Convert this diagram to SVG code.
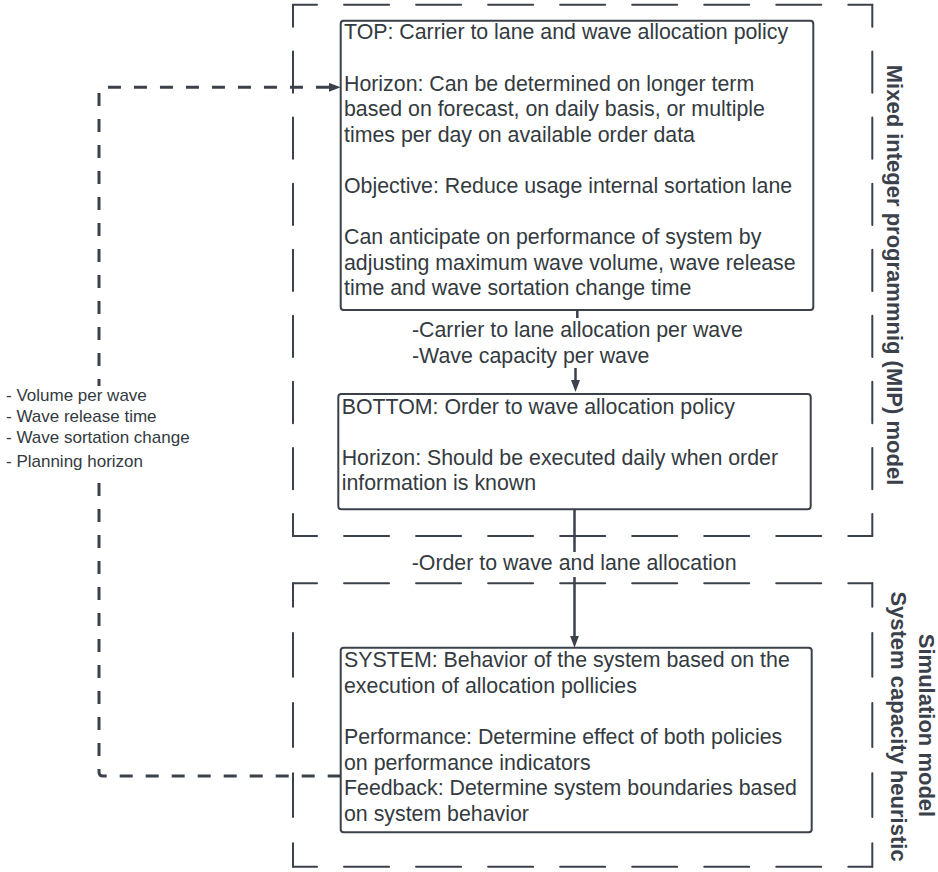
<svg xmlns="http://www.w3.org/2000/svg" width="938" height="872" viewBox="0 0 938 872">
<defs>
<style>
.frame{fill:none;stroke:#3a414a;stroke-width:2;stroke-dasharray:45 27;stroke-dashoffset:21;stroke-linecap:round}
.box{fill:#ffffff;stroke:#3a414a;stroke-width:2}
.t{font-family:"Liberation Sans",Arial,sans-serif;font-size:21.33px;fill:#333a40}
.lg{font-family:"Liberation Sans",Arial,sans-serif;font-size:17px;fill:#333a40}
.ttl{font-family:"Liberation Sans",Arial,sans-serif;font-size:22px;font-weight:bold;fill:#3a414a;text-anchor:middle}
.conn{fill:none;stroke:#3a414a;stroke-width:2.5}
.dconn{fill:none;stroke:#3a414a;stroke-width:3;stroke-dasharray:13 13}
.bg{fill:#ffffff}
</style>
<marker id="arr" markerUnits="userSpaceOnUse" markerWidth="14" markerHeight="10" refX="6" refY="4.5" orient="auto">
<path d="M0,0 L12,4.5 L0,9 Z" fill="#3a414a"/>
</marker>
</defs>
<rect width="938" height="872" fill="#ffffff"/>

<g id="frame-mip">
<path class="frame" pathLength="579" d="M293,4.7 H872.3"/>
<path class="frame" pathLength="579" d="M872.3,4.7 V536"/>
<path class="frame" pathLength="579" d="M872.3,536 H293"/>
<path class="frame" pathLength="579" d="M293,536 V4.7"/>
<text class="ttl" transform="translate(887,275) rotate(90)">Mixed integer programmnig (MIP) model</text>
</g>

<g id="frame-sim">
<path class="frame" pathLength="579" d="M293,583.3 H872.3"/>
<path class="frame" pathLength="291" d="M872.3,583.3 V866.7"/>
<path class="frame" pathLength="579" d="M872.3,866.7 H293"/>
<path class="frame" pathLength="291" d="M293,866.7 V583.3"/>
<text class="ttl" transform="translate(919,725.5) rotate(90)">Simulation model</text>
<text class="ttl" transform="translate(890.5,726.5) rotate(90)">System capacity heuristic</text>
</g>

<g id="connectors">
<path class="conn" d="M577.3,310 V342 H575.5 V386" marker-end="url(#arr)"/>
<path class="conn" d="M574.5,509.3 V641.7" marker-end="url(#arr)"/>
<path class="dconn" d="M340.7,776 H103 Q99,776 99,772 V91.3 Q99,87.3 103,87.3 H334.7" marker-end="url(#arr)"/>
</g>

<g id="label-top-bottom">
<rect class="bg" x="410" y="318" width="336" height="50"/>
<text class="t" x="412" y="337">-Carrier to lane allocation per wave</text>
<text class="t" x="412" y="363">-Wave capacity per wave</text>
</g>

<g id="label-bottom-system">
<rect class="bg" x="410" y="552" width="328" height="25"/>
<text class="t" x="411.7" y="570">-Order to wave and lane allocation</text>
</g>

<g id="label-feedback">
<rect class="bg" x="4" y="386" width="192" height="90"/>
<text class="lg" x="6" y="400.7">- Volume per wave</text>
<text class="lg" x="6" y="421.7">- Wave release time</text>
<text class="lg" x="6" y="442.7">- Wave sortation change</text>
<text class="lg" x="6" y="466.7">- Planning horizon</text>
</g>

<g id="node-top">
<rect class="box" x="340.7" y="20.7" width="472.6" height="289.3" rx="3"/>
<text class="t" x="344" y="39.3">TOP: Carrier to lane and wave allocation policy</text>
<text class="t" x="344" y="90.5">Horizon: Can be determined on longer term</text>
<text class="t" x="344" y="116.1">based on forecast, on daily basis, or multiple</text>
<text class="t" x="344" y="141.7">times per day on available order data</text>
<text class="t" x="344" y="192.9">Objective: Reduce usage internal sortation lane</text>
<text class="t" x="344" y="244.1">Can anticipate on performance of system by</text>
<text class="t" x="344" y="269.7">adjusting maximum wave volume, wave release</text>
<text class="t" x="344" y="295.3">time and wave sortation change time</text>
</g>

<g id="node-bottom">
<rect class="box" x="338.3" y="394" width="472.4" height="115.3" rx="3"/>
<text class="t" x="341.7" y="413.5">BOTTOM: Order to wave allocation policy</text>
<text class="t" x="341.7" y="464.7">Horizon: Should be executed daily when order</text>
<text class="t" x="341.7" y="490.3">information is known</text>
</g>

<g id="node-system">
<rect class="box" x="340.7" y="647.7" width="471" height="184.6" rx="3"/>
<text class="t" x="344" y="667.3">SYSTEM: Behavior of the system based on the</text>
<text class="t" x="344" y="692.9">execution of allocation pollicies</text>
<text class="t" x="344" y="744.1">Performance: Determine effect of both policies</text>
<text class="t" x="344" y="769.7">on performance indicators</text>
<text class="t" x="344" y="795.3">Feedback: Determine system boundaries based</text>
<text class="t" x="344" y="820.9">on system behavior</text>
</g>
</svg>
